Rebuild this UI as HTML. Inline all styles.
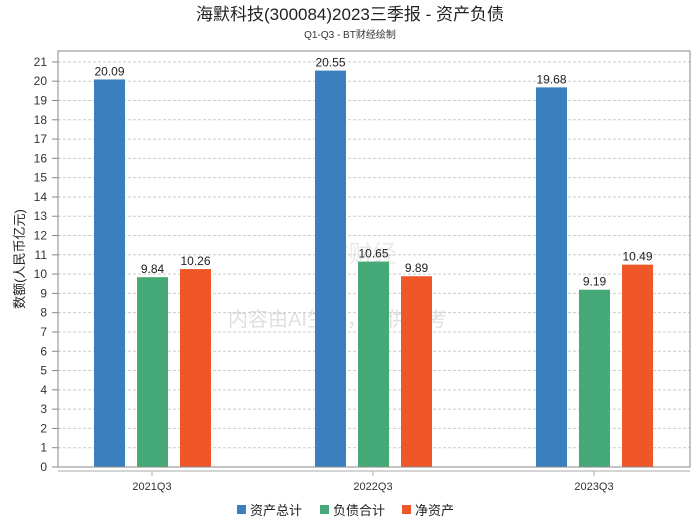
<!DOCTYPE html>
<html><head><meta charset="utf-8"><style>
body{margin:0;background:#fff;font-family:"Liberation Sans","Noto Sans CJK SC",sans-serif}
svg text{font-family:"Liberation Sans","Noto Sans CJK SC",sans-serif}
</style></head><body>
<svg id="c" width="700" height="524" xmlns="http://www.w3.org/2000/svg">
<text x="350" y="20" text-anchor="middle" font-size="17" fill="#222">海默科技(300084)2023三季报 - 资产负债</text>
<text x="350" y="38" text-anchor="middle" font-size="10" fill="#333">Q1-Q3 - BT财经绘制</text>
<text x="228" y="326" font-size="20" fill="#ccc" opacity="0.6">内容由AI生成，仅供参考</text>
<text x="318" y="262" font-size="24" fill="#ccc" opacity="0.4">BT财经</text>
<text transform="translate(24,259) rotate(-90)" text-anchor="middle" font-size="13" fill="#222">数额(人民币亿元)</text>
<g id="grid"></g><g id="bars"></g>
<rect x="58" y="51" width="632" height="416" fill="none" stroke="#888"/>
<line x1="58" y1="471" x2="690" y2="471" stroke="#aaa"/>
<g id="legend"></g>
</svg>
<script>
const categories=["2021Q3","2022Q3","2023Q3"];
const seriesNames=["资产总计","负债合计","净资产"];
const assets=[20.09,20.55,19.68];
const liabilities=[9.84,10.65,9.19];
const equity=[10.26,9.89,10.49];
const yTicks=[0,1,2,3,4,5,6,7,8,9,10,11,12,13,14,15,16,17,18,19,20,21];
const colors=["#3a80bf","#46a978","#ef5628"];
const NS="http://www.w3.org/2000/svg";
const y=v=>467-v*19.29;
const gx=i=>152+i*221;
function el(t,a,p){const e=document.createElementNS(NS,t);for(const k in a)e.setAttribute(k,a[k]);p.appendChild(e);return e;}
const grid=document.getElementById('grid'),bars=document.getElementById('bars'),lg=document.getElementById('legend');
yTicks.forEach(v=>{
 if(v>0){const l=el('line',{x1:58,x2:690,y1:y(v),y2:y(v),stroke:'#ccc','stroke-dasharray':'3,2'},grid);
 
 }
 const t=el('text',{x:47,y:y(v)+4,'text-anchor':'end','font-size':12,fill:'#333'},grid);t.textContent=v;
 
 
 const tk=el('line',{x1:52,x2:58,y1:y(v),y2:y(v),stroke:'#888'},grid);
 
 
});
const series=[assets,liabilities,equity];
categories.forEach((c,i)=>{
 const t=el('text',{x:gx(i),y:490,'text-anchor':'middle','font-size':11,fill:'#333'},grid);t.textContent=c;
 
 
 const tk=el('line',{x1:gx(i),x2:gx(i),y1:471,y2:476,stroke:'#aaa'},grid);
 
 
 series.forEach((s,j)=>{
  const x=gx(i)-58+j*43;
  const r=el('rect',{x:x,y:y(s[i]),width:31,height:467-y(s[i]),fill:colors[j]},bars);
  
  
  const lb=el('text',{x:x+15.5,y:y(s[i])-4,'text-anchor':'middle','font-size':12,fill:'#222'},bars);lb.textContent=s[i].toFixed(2);
  
  
 });
});
const lx=[237,320,402];
seriesNames.forEach((n,j)=>{
 const r=el('rect',{x:lx[j],y:505,width:9,height:9,fill:colors[j]},lg);
 
 
 const t=el('text',{x:lx[j]+13,y:515,'font-size':13,fill:'#222'},lg);t.textContent=n;
 
 
});
</script>
</body></html>
